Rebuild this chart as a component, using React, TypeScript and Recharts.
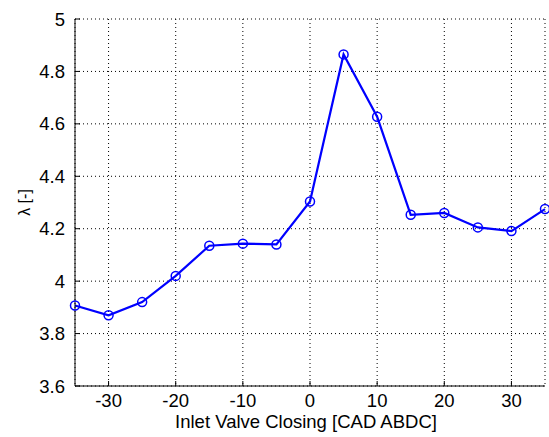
import { LineChart, Line, XAxis, YAxis, CartesianGrid, Label } from 'recharts';

const ivc = [-35, -30, -25, -20, -15, -10, -5, 0, 5, 10, 15, 20, 25, 30, 35];
const lambda = [3.907, 3.87, 3.92, 4.02, 4.135, 4.143, 4.14, 4.304, 4.865, 4.627, 4.253, 4.26, 4.205, 4.191, 4.275];
const xTicks = [-30, -20, -10, 0, 10, 20, 30];
const yTicks = [3.6, 3.8, 4, 4.2, 4.4, 4.6, 4.8, 5];

const data = ivc.map((x, i) => ({ x, y: lambda[i] }));

const font = 'Liberation Sans, Arial, sans-serif';
const tickStyle = { fontSize: 18.5, fill: '#000', fontFamily: font };

export default function App() {
  // absolute so the 8px body margin does not push the page into scrollbars
  return (
    <div style={{ position: 'absolute', left: 8, top: 8, width: 541, height: 429 }}>
      <LineChart width={541} height={429} data={data} margin={{ top: 11, right: 4, left: 0, bottom: 0 }}>
        <CartesianGrid stroke="#000" strokeDasharray="1 3" strokeWidth={1} />
        <XAxis
          dataKey="x"
          type="number"
          domain={[-35, 35]}
          ticks={xTicks}
          height={51}
          tickSize={-5}
          tickMargin={13}
          stroke="#000"
          tick={tickStyle}
          tickFormatter={(v) => String(v)}
        >
          <Label
            content={({ viewBox }: any) => (
              <text
                x={viewBox.x + viewBox.width / 2 - 4}
                y={viewBox.y + 42}
                textAnchor="middle"
                fontSize={18.5}
                fontFamily={font}
                fill="#000"
              >
                Inlet Valve Closing [CAD ABDC]
              </text>
            )}
          />
        </XAxis>
        <XAxis xAxisId="top" dataKey="x" type="number" domain={[-35, 35]} ticks={xTicks} orientation="top" height={0} tickSize={-5} tick={false} stroke="#333" />
        <YAxis
          type="number"
          domain={[3.6, 5]}
          ticks={yTicks}
          width={67}
          tickSize={-5}
          tickMargin={15}
          stroke="#000"
          tick={tickStyle}
          tickFormatter={(v) => String(v)}
        >
          <Label
            content={({ viewBox }: any) => (
              <text
                transform={`translate(22, ${viewBox.y + viewBox.height / 2}) rotate(-90)`}
                textAnchor="middle"
                fontSize={16}
                fontFamily={font}
                fill="#000"
              >
                λ [-]
              </text>
            )}
          />
        </YAxis>
        <YAxis yAxisId="right" type="number" domain={[3.6, 5]} ticks={yTicks} orientation="right" width={0} tickSize={-5} tick={false} stroke="#333" />
        <Line
          dataKey="y"
          stroke="#0000ff"
          strokeWidth={2.2}
          dot={{ r: 4.5, stroke: '#0000ff', strokeWidth: 1.5, fill: 'none' }}
          isAnimationActive={false}
        />
      </LineChart>
    </div>
  );
}
